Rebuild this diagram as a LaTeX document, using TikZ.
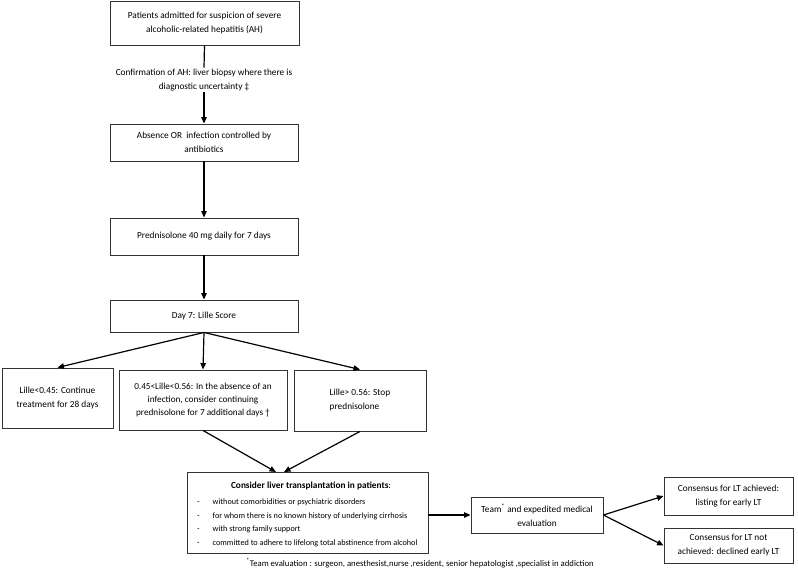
\documentclass[tikz,border=0pt]{standalone}
\usepackage{fontspec}
\setmainfont{Carlito}
\usetikzlibrary{arrows.meta,calc}
\begin{document}
\begin{tikzpicture}[x=1pt,y=-1pt,
  box/.style={draw=black!80, line width=0.9pt, inner sep=0pt, align=center, font=\fontsize{9.3}{14}\selectfont},
  arr/.style={line width=1.2pt, -{Triangle[length=6.5pt,width=5.5pt]}},
  ln/.style={line width=1.2pt},
  txt/.style={inner sep=1pt, align=center, font=\fontsize{9.3}{14.5}\selectfont}]
\useasboundingbox (0,0) rectangle (798,570);
\node[box, minimum width=189pt, minimum height=44pt] (b1) at (204.5,23) {Patients admitted for suspicion of severe\\alcoholic-related hepatitis (AH)};
\node[txt] (conf) at (204,80) {Confirmation of AH: liver biopsy where there is\\diagnostic uncertainty ‡};
\node[box, minimum width=188pt, minimum height=37pt] (b2) at (204,142.5) {Absence OR\ \ infection controlled by\\antibiotics};
\node[box, minimum width=188pt, minimum height=37pt] (b3) at (204,236.5) {Prednisolone 40 mg daily for 7 days};
\node[box, minimum width=188pt, minimum height=32pt] (b4) at (204,316) {Day 7: Lille Score};
\node[box, minimum width=111pt, minimum height=60pt] (L) at (57.5,398) {Lille<0.45: Continue\\treatment for 28 days};
\node[box, minimum width=168pt, minimum height=60pt, font=\fontsize{9.2}{13}\selectfont] (M) at (203,400) {0.45<Lille<0.56: In the absence of an\\infection, consider continuing\\prednisolone for 7 additional days †};
\node[box, minimum width=132pt, minimum height=61pt, align=left] (R) at (360,400.5) {Lille> 0.56: Stop\\ prednisolone};
\node[box, minimum width=241pt, minimum height=81pt] (C) at (307.5,512.5) {};
\node[txt] (ctitle) at (311,486) {\textbf{Consider liver transplantation in patients}:};
\node[txt, anchor=north west, inner sep=0pt, font=\fontsize{8.2}{13.5}\selectfont] (clist) at (197,495) {\begin{tabular}{@{}l@{\hspace{13pt}}l@{}}
-&without comorbidities or psychiatric disorders\\
-&for whom there is no known history of underlying cirrhosis\\
-&with strong family support\\
-&committed to adhere to lifelong total abstinence from alcohol
\end{tabular}};
\node[box, minimum width=132pt, minimum height=36pt] (team) at (537,515) {Team\textsuperscript{*} and expedited medical\\evaluation};
\node[box, minimum width=129pt, minimum height=38pt] (k1) at (728.5,496) {Consensus for LT achieved:\\listing for early LT};
\node[box, minimum width=129pt, minimum height=35pt] (k2) at (728.5,545.5) {Consensus for LT not\\achieved: declined early LT};
\node[txt, font=\fontsize{8.7}{12}\selectfont] (foot) at (420,563) {\textsuperscript{*}Team evaluation : surgeon, anesthesist,nurse ,resident, senior hepatologist ,specialist in addiction};
\coordinate (cin1) at (276,472);
\coordinate (cin2) at (284,472);
\draw[ln] (b1.south) -- (conf.north);
\draw[arr] (conf.south) -- (b2.north);
\draw[arr] (b2.south) -- (b3.north);
\draw[arr] (b3.south) -- (b4.north);
\draw[arr] (b4.south) -- (L.north);
\draw[arr] (b4.south) -- (M.north);
\draw[arr] (b4.south) -- (R.north);
\draw[arr] (M.south) -- (cin1);
\draw[arr] (R.south) -- (cin2);
\draw[arr] (C.east |- team.west) -- (team.west);
\draw[arr] (team.east) -- (k1.west);
\draw[arr] (team.east) -- (k2.west);
\end{tikzpicture}
\end{document}
